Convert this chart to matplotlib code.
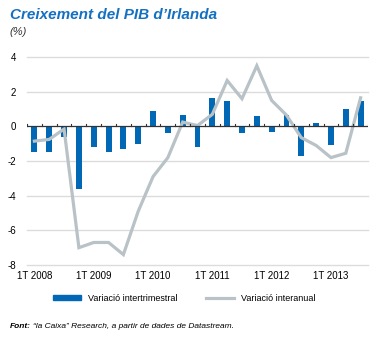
import numpy as np
import matplotlib.pyplot as plt
from matplotlib.lines import Line2D
from matplotlib.patches import Patch

# Dades (2008T1 - 2013T3)
quarters = ['1T 2008', '2T 2008', '3T 2008', '4T 2008',
            '1T 2009', '2T 2009', '3T 2009', '4T 2009',
            '1T 2010', '2T 2010', '3T 2010', '4T 2010',
            '1T 2011', '2T 2011', '3T 2011', '4T 2011',
            '1T 2012', '2T 2012', '3T 2012', '4T 2012',
            '1T 2013', '2T 2013', '3T 2013']
intertrimestral = [-1.5, -1.5, -0.6, -3.6, -1.2, -1.5, -1.3, -1.0,
                   0.9, -0.4, 0.65, -1.2, 1.65, 1.45, -0.4, 0.6,
                   -0.3, 0.65, -1.7, 0.2, -1.1, 1.0, 1.45]
interanual = [-0.85, -0.75, -0.15, -7.0, -6.7, -6.7, -7.4, -4.9,
              -2.9, -1.8, 0.25, 0.05, 0.7, 2.65, 1.6, 3.5,
              1.5, 0.65, -0.65, -1.1, -1.8, -1.55, 1.65]
yticks = [4, 2, 0, -2, -4, -6, -8]

blue = '#0068b4'
grey = '#b8c2c7'
title_blue = '#1470c0'

plt.rcParams['font.family'] = ['Liberation Sans Narrow', 'Liberation Sans', 'DejaVu Sans']

fig = plt.figure(figsize=(3.82, 3.38), dpi=100)
ax = fig.add_axes([0.0707, 0.216, 0.8927, 0.615])

x = np.arange(len(quarters))
ax.bar(x, intertrimestral, width=0.4, color=blue, zorder=3)
ax.plot(x, interanual, color=grey, lw=2.3, zorder=4, solid_joinstyle='miter')

ax.set_xlim(-0.5, len(quarters) - 0.5)
ax.set_ylim(-8, 4)
ax.set_yticks(yticks)
ax.set_yticklabels([str(v) for v in yticks], fontsize=7)
for v in yticks:
    if v != 0:
        ax.axhline(v, color='#dcdcdc', lw=1, zorder=1, clip_on=False)
ax.axhline(0, color='#333333', lw=0.9, zorder=5)
# petites marques sobre la línia de zero
for b in np.arange(-0.5, len(quarters), 1):
    ax.plot([b, b], [0, 0.15], color='#333333', lw=0.8, zorder=5)

ax.set_xticks(x[::4])
ax.set_xticklabels(quarters[::4], fontsize=7)
ax.tick_params(length=0, pad=4)
ax.tick_params(axis='y', pad=8)
for s in ax.spines.values():
    s.set_visible(False)

fig.text(0.026, 0.955, 'Creixement del PIB d\u2019Irlanda', color=title_blue,
         fontsize=11, fontweight='bold', fontstyle='italic', va='center')
fig.text(0.026, 0.905, '(%)', fontsize=8, fontstyle='italic', color='#333333', va='center')

handles = [Patch(color=blue), Line2D([], [], color=grey, lw=2.3)]
fig.legend(handles, ['Variació intertrimestral', 'Variació interanual'],
           loc='center', bbox_to_anchor=(0.482, 0.118), ncol=2, frameon=False,
           fontsize=6.5, handlelength=3.1, handleheight=0.45, handletextpad=0.8,
           columnspacing=3.1)

t1 = fig.text(0.026, 0.035, 'Font:', fontsize=6, fontweight='bold', fontstyle='italic', va='center')
fig.canvas.draw()
bb = t1.get_window_extent().transformed(fig.transFigure.inverted())
fig.text(bb.x1 + 0.006, 0.035, '\u201cla Caixa\u201d Research, a partir de dades de Datastream.',
         fontsize=6, fontstyle='italic', va='center')

fig.savefig('out.png', dpi=100)
